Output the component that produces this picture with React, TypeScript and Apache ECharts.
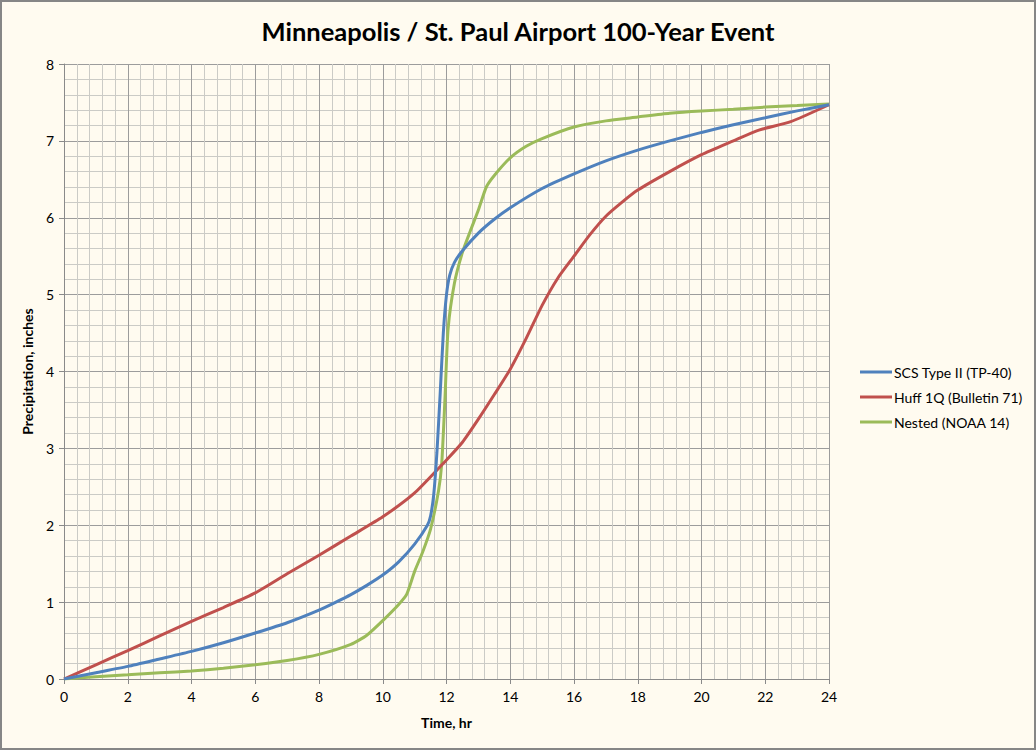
import React, { useEffect, useRef } from "react";
import * as echarts from "echarts";

const title = "Minneapolis / St. Paul Airport 100-Year Event";
const xAxisName = "Time, hr";
const yAxisName = "Precipitation, inches";
const seriesNames = ["SCS Type II (TP-40)", "Huff 1Q (Bulletin 71)", "Nested (NOAA 14)"];
const seriesColors = ["#4F81BD", "#C0504D", "#9BBB59"];

const scsTime = [0, 1, 2, 3, 4, 5, 6, 7, 8, 8.5, 9, 9.5, 10, 10.5, 11, 11.4, 11.5, 11.6, 11.7, 11.8, 11.9, 12, 12.1, 12.25, 12.5, 13, 13.5, 14, 15, 16, 17, 18, 19, 20, 21, 22, 23, 24];
const scsValue = [0, 0.082, 0.164, 0.261, 0.359, 0.471, 0.598, 0.732, 0.896, 0.994, 1.098, 1.218, 1.352, 1.524, 1.755, 2.0, 2.12, 2.4, 2.95, 3.7, 4.5, 5.0, 5.25, 5.42, 5.57, 5.8, 5.98, 6.13, 6.38, 6.57, 6.74, 6.88, 7.0, 7.11, 7.21, 7.3, 7.39, 7.47];

const huffTime = [0, 1, 2, 3, 4, 5, 6, 7, 8, 9, 10, 11, 12, 12.5, 13, 13.5, 14, 14.5, 15, 15.5, 16, 16.5, 17, 17.5, 18, 19, 20, 21, 21.8, 22.8, 24];
const huffValue = [0, 0.185, 0.37, 0.56, 0.75, 0.93, 1.12, 1.37, 1.61, 1.86, 2.11, 2.42, 2.85, 3.08, 3.38, 3.7, 4.03, 4.43, 4.86, 5.22, 5.5, 5.78, 6.02, 6.2, 6.36, 6.6, 6.82, 7.0, 7.14, 7.25, 7.47];

const nestedTime = [0, 1, 2, 3, 4, 5, 6, 7, 8, 9, 9.5, 10, 10.5, 10.75, 11, 11.25, 11.5, 11.75, 11.85, 11.95, 12.05, 12.25, 12.5, 12.75, 13, 13.25, 13.5, 14, 14.5, 15, 16, 17, 18, 19, 20, 21, 22, 23, 24];
const nestedValue = [0, 0.03, 0.055, 0.08, 0.105, 0.14, 0.185, 0.24, 0.32, 0.45, 0.57, 0.76, 0.97, 1.1, 1.4, 1.65, 1.95, 2.45, 2.8, 3.63, 4.55, 5.15, 5.55, 5.83, 6.1, 6.4, 6.55, 6.78, 6.93, 7.03, 7.18, 7.26, 7.31, 7.36, 7.39, 7.41, 7.44, 7.46, 7.48];

const seriesTimes = [scsTime, huffTime, nestedTime];
const seriesValues = [scsValue, huffValue, nestedValue];

const FONT = "Lato, 'Open Sans', sans-serif";

export default function App() {
  const ref = useRef<HTMLDivElement>(null);
  useEffect(() => {
    document.body.style.margin = "0";
    const chart = echarts.init(ref.current!, null, { renderer: "svg" });
    const option = {
      animation: false,
      backgroundColor: "#FFFBF0",
      textStyle: { fontFamily: FONT },
      title: {
        text: title,
        left: "center",
        top: 13,
        textStyle: { fontFamily: FONT, fontSize: 25.5, fontWeight: "bold", color: "#000" },
      },
      graphic: [
        {
          type: "rect",
          shape: { x: 1, y: 1, width: 1034, height: 748 },
          style: { fill: "none", stroke: "#868686", lineWidth: 2 },
          silent: true,
        },
      ],
      legend: {
        orient: "vertical",
        left: 855,
        top: 360,
        itemGap: 11,
        itemWidth: 32,
        itemHeight: 3,
        icon: "rect",
        textStyle: { fontFamily: FONT, fontSize: 14, color: "#000", padding: [0, 0, 0, -3] },
        data: seriesNames,
      },
      grid: { left: 64, right: 207, top: 64, bottom: 71, containLabel: false },
      xAxis: {
        type: "value",
        min: 0,
        max: 24,
        interval: 2,
        name: xAxisName,
        nameLocation: "middle",
        nameGap: 36,
        nameTextStyle: { fontFamily: FONT, fontSize: 14, fontWeight: "bold", color: "#000" },
        axisLine: { show: true, lineStyle: { color: "#8a8a8a", width: 1 } },
        axisTick: { show: true, length: 5, lineStyle: { color: "#8a8a8a" } },
        axisLabel: { fontFamily: FONT, fontSize: 14, color: "#000", margin: 10 },
        splitLine: { show: true, lineStyle: { color: "#9c9c9c", width: 1 } },
        minorTick: { show: false, splitNumber: 5 },
        minorSplitLine: { show: true, lineStyle: { color: "#cbcbc6", width: 1 } },
      },
      yAxis: {
        type: "value",
        min: 0,
        max: 8,
        interval: 1,
        name: yAxisName,
        nameLocation: "middle",
        nameGap: 28,
        nameRotate: 90,
        nameTextStyle: { fontFamily: FONT, fontSize: 14, fontWeight: "bold", color: "#000" },
        axisLine: { show: true, lineStyle: { color: "#8a8a8a", width: 1 } },
        axisTick: { show: true, length: 5, lineStyle: { color: "#8a8a8a" } },
        axisLabel: { fontFamily: FONT, fontSize: 14, color: "#000", margin: 10 },
        splitLine: { show: true, lineStyle: { color: "#9c9c9c", width: 1 } },
        minorTick: { show: false, splitNumber: 5 },
        minorSplitLine: { show: true, lineStyle: { color: "#cbcbc6", width: 1 } },
      },
      series: seriesNames.map((name, i) => ({
        name,
        type: "line",
        data: seriesTimes[i].map((t, j) => [t, seriesValues[i][j]]),
        showSymbol: false,
        smooth: 0.2,
        lineStyle: { color: seriesColors[i], width: 3 },
        itemStyle: { color: seriesColors[i] },
        z: 10 - i,
      })),
    };
    chart.setOption(option as any);
    return () => chart.dispose();
  }, []);
  return <div ref={ref} style={{ position: "absolute", left: 0, top: 0, width: 1036, height: 750 }} />;
}
